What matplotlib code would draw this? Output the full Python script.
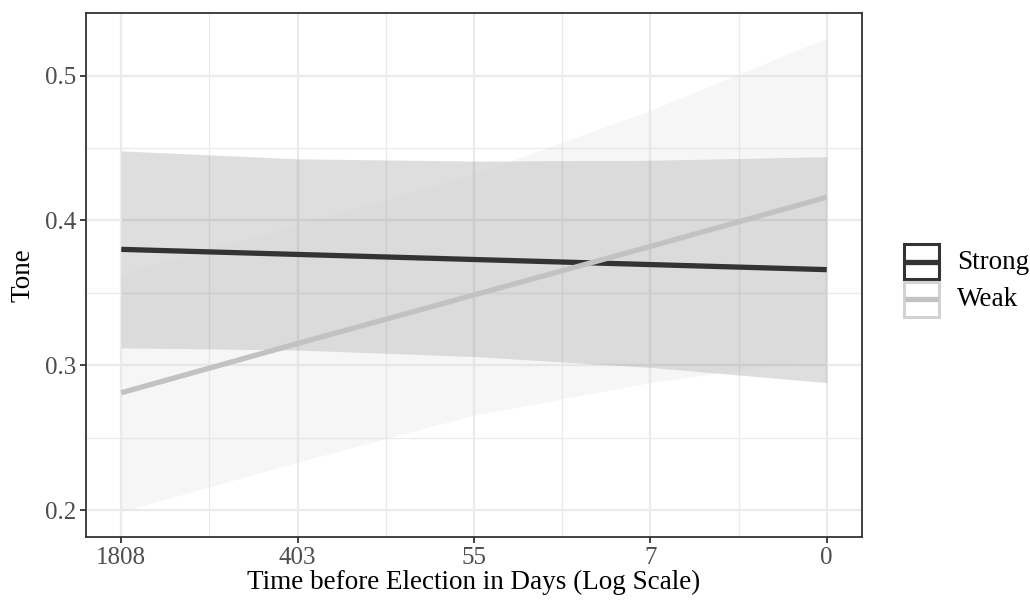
import numpy as np
import matplotlib
matplotlib.use("Agg")
import matplotlib.pyplot as plt
from matplotlib.patches import Rectangle

plt.rcParams['font.family'] = ['Liberation Serif', 'DejaVu Serif']

# tick labels on the (log) time axis, one value per tick position
day_labels = ['1808', '403', '55', '7', '0']
tick_pos = [0, 1, 2, 3, 4]

# fitted tone + confidence band, read at each tick
strong_fit = [0.380, 0.3765, 0.373, 0.3695, 0.366]
strong_lo = [0.312, 0.3105, 0.306, 0.2985, 0.288]
strong_hi = [0.448, 0.4425, 0.441, 0.4415, 0.444]

weak_fit = [0.281, 0.315, 0.3485, 0.382, 0.416]
weak_lo = [0.199, 0.233, 0.2655, 0.288, 0.305]
weak_hi = [0.363, 0.397, 0.432, 0.476, 0.526]

groups = ['Strong', 'Weak']
line_cols = ['#333333', '#c2c2c2']
band_cols = ['#333333', '#cccccc']
box_edges = ['#333333', '#d2d2d2']
band_alpha = 0.16

fig = plt.figure(figsize=(10.30, 6.01), dpi=100)
ax = fig.add_axes([86/1030, 1 - 537/601, (862 - 86)/1030, (537 - 13)/601])

series = [(strong_fit, strong_lo, strong_hi), (weak_fit, weak_lo, weak_hi)]

# grid first
for v in [0.2, 0.3, 0.4, 0.5]:
    ax.axhline(v, color='#ebebeb', lw=1.6, zorder=0)
for v in [0.25, 0.35, 0.45]:
    ax.axhline(v, color='#ebebeb', lw=0.9, zorder=0)
for v in tick_pos:
    ax.axvline(v, color='#ebebeb', lw=1.6, zorder=0)
for v in [0.5, 1.5, 2.5, 3.5]:
    ax.axvline(v, color='#ebebeb', lw=0.9, zorder=0)

for (fit, lo, hi), bc in zip(series, band_cols):
    ax.fill_between(tick_pos, lo, hi, color=bc, alpha=band_alpha, lw=0, zorder=1)
for (fit, lo, hi), lc in zip(series, line_cols):
    ax.plot(tick_pos, fit, color=lc, lw=3.8, solid_capstyle='butt', zorder=3)

ax.set_xlim(-0.2, 4.2)
ax.set_ylim(0.1814, 0.5432)
ax.set_xticks(tick_pos)
ax.set_xticklabels(day_labels)
ax.set_yticks([0.2, 0.3, 0.4, 0.5])
ax.set_yticklabels(['0.2', '0.3', '0.4', '0.5'])

ax.tick_params(axis='both', labelsize=18, colors='#333333', labelcolor='#4d4d4d',
               length=4, width=1.3, pad=3)
for s in ax.spines.values():
    s.set_color('#333333')
    s.set_linewidth(1.3)

ax.set_xlabel('Time before Election in Days (Log Scale)', fontsize=19.5, color='black', labelpad=1)
ax.set_ylabel('Tone', fontsize=19.5, color='black', labelpad=7)

# legend drawn by hand in its own little axes (pixel-ish units)
lax = fig.add_axes([895/1030, 1 - 325/601, 135/1030, 90/601])
lax.set_xlim(895, 1030)
lax.set_ylim(325, 235)
lax.axis('off')
for i, (name, lc, ec) in enumerate(zip(groups, line_cols, box_edges)):
    top = 244 + i * 37.5
    lax.add_patch(Rectangle((904, top), 35, 35, facecolor='white', edgecolor=ec, lw=2.2))
    lax.plot([905, 938], [top + 17.5, top + 17.5], color=lc, lw=3.8, solid_capstyle='butt')
    lax.text(957, top + 18.5, name, fontsize=19.5, va='center', ha='left', color='black')

fig.savefig('out.png', dpi=100)
